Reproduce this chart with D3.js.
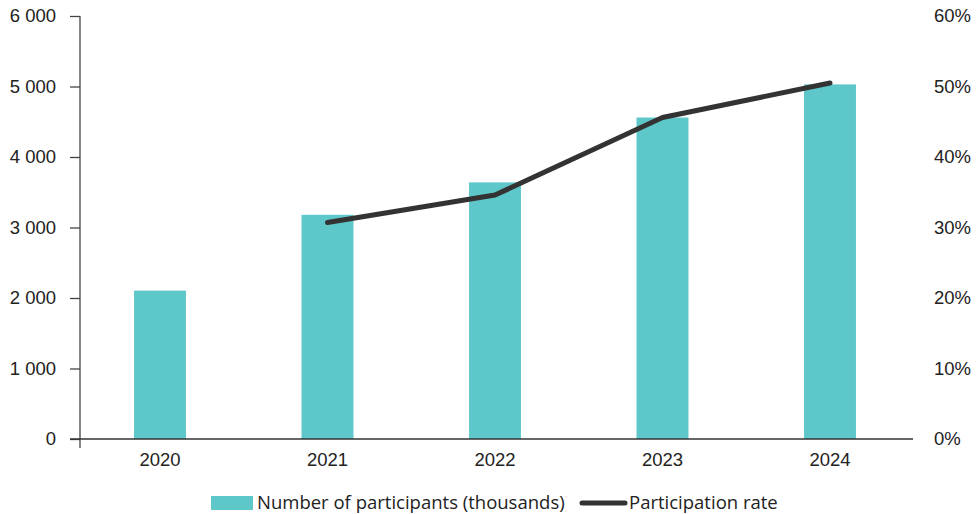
<!DOCTYPE html>
<html>
<head>
<meta charset="utf-8">
<script src="https://cdn.jsdelivr.net/npm/d3@7"></script>
<style>
  html, body { margin: 0; padding: 0; background: #fff; }
  svg { display: block; font-family: "Open Sans", "Noto Sans", sans-serif; }
</style>
</head>
<body>
<svg id="chart" width="978" height="514"></svg>
<script>
// Participants (thousands) and participation rate by year
const years = ["2020", "2021", "2022", "2023", "2024"];
const participants = [2105, 3180, 3640, 4560, 5030];
const rateYears = ["2021", "2022", "2023", "2024"];
const rates = [30.7, 34.6, 45.6, 50.5];
const leftTicks = [0, 1000, 2000, 3000, 4000, 5000, 6000];
const rightTicks = [0, 10, 20, 30, 40, 50, 60];
const legendLabels = ["Number of participants (thousands)", "Participation rate"];

const svg = d3.select("#chart");
const barColor = "#5ec7c9";
const lineColor = "#333333";
const textColor = "#222222";
const fontSize = "18.5px";

const plot = { left: 80, right: 913, top: 16, bottom: 439 };

const x = d3.scaleBand().domain(years).range([76.25, 913.75]).paddingInner(0.69).paddingOuter(0.345);
const yL = d3.scaleLinear().domain([0, 6000]).range([plot.bottom, plot.top]);
const yR = d3.scaleLinear().domain([0, 60]).range([plot.bottom, plot.top]);

const fmt = d => d3.format(",")(d).replace(/,/g, " ");

// Bars
svg.append("g").selectAll("rect").data(years).join("rect")
  .attr("x", d => x(d))
  .attr("width", x.bandwidth())
  .attr("y", (d, i) => yL(participants[i]))
  .attr("height", (d, i) => plot.bottom - yL(participants[i]))
  .attr("fill", barColor);

// Left axis
const gL = svg.append("g").attr("transform", `translate(${plot.left},0)`)
  .call(d3.axisLeft(yL).tickValues(leftTicks).tickFormat(fmt).tickSize(10).tickPadding(14));
gL.select(".domain").attr("d", `M0,${plot.top}V${plot.bottom + 9}`).attr("stroke", "#444").attr("stroke-width", 1.3);
gL.selectAll(".tick line").attr("stroke", "#444").attr("stroke-width", 1.3);
gL.selectAll(".tick text").attr("fill", textColor).style("font-size", fontSize);

// Right axis (labels only)
const gR = svg.append("g").attr("transform", `translate(${plot.right},0)`)
  .call(d3.axisRight(yR).tickValues(rightTicks).tickFormat(d => d + "%").tickSize(0).tickPadding(21));
gR.select(".domain").remove();
gR.selectAll(".tick text").attr("fill", textColor).style("font-size", fontSize);

// Bottom axis
const gB = svg.append("g").attr("transform", `translate(0,${plot.bottom})`)
  .call(d3.axisBottom(x).tickSize(0).tickPadding(14));
gB.select(".domain").attr("d", `M${plot.left - 10},0H${plot.right}`).attr("stroke", "#333").attr("stroke-width", 1.5);
gB.selectAll(".tick text").attr("fill", textColor).style("font-size", fontSize);

// Participation rate line
const line = d3.line()
  .x((d, i) => x(rateYears[i]) + x.bandwidth() / 2)
  .y(d => yR(d));
svg.append("path").datum(rates)
  .attr("d", line)
  .attr("fill", "none")
  .attr("stroke", lineColor)
  .attr("stroke-width", 5)
  .attr("stroke-linecap", "round")
  .attr("stroke-linejoin", "round");

// Legend
const lg = svg.append("g");
lg.append("rect").attr("x", 211).attr("y", 496).attr("width", 42).attr("height", 14).attr("fill", barColor);
lg.append("text").attr("x", 257).attr("y", 509).text(legendLabels[0])
  .attr("fill", textColor).style("font-size", fontSize);
lg.append("line").attr("x1", 582).attr("x2", 625).attr("y1", 503).attr("y2", 503)
  .attr("stroke", lineColor).attr("stroke-width", 5).attr("stroke-linecap", "round");
lg.append("text").attr("x", 629).attr("y", 509).text(legendLabels[1])
  .attr("fill", textColor).style("font-size", fontSize);
</script>
</body>
</html>
